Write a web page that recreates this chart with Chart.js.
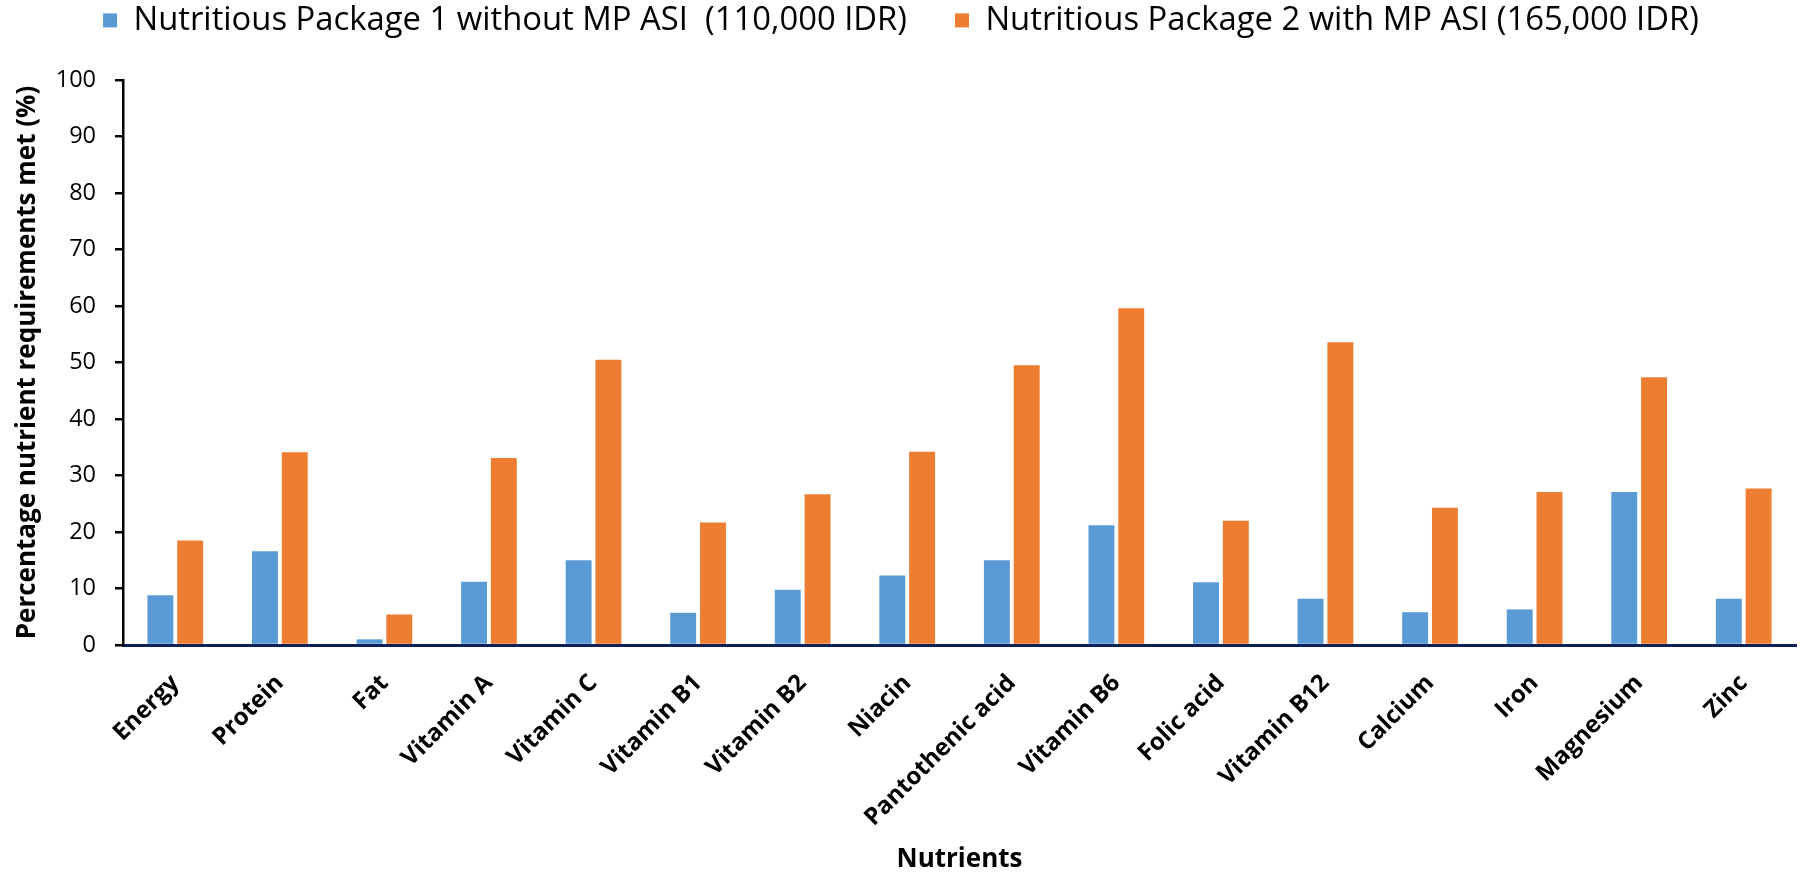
<!DOCTYPE html>
<html>
<head>
<meta charset="utf-8">
<title>Nutrient requirements met by package</title>
<script src="https://cdn.jsdelivr.net/npm/chart.js@4.4.1/dist/chart.umd.min.js"></script>
<style>
  html, body { margin: 0; padding: 0; background: #ffffff; }
  #wrap { width: 1800px; height: 875px; }
</style>
</head>
<body>
<div id="wrap"><canvas id="chart" width="1800" height="875"></canvas></div>
<script>
// Nutrients on the category axis
const nutrients = [
  'Energy', 'Protein', 'Fat', 'Vitamin A', 'Vitamin C', 'Vitamin B1', 'Vitamin B2',
  'Niacin', 'Pantothenic acid', 'Vitamin B6', 'Folic acid', 'Vitamin B12',
  'Calcium', 'Iron', 'Magnesium', 'Zinc'
];

// Percentage of nutrient requirements met (%)
const package1 = [8.8, 16.6, 1.0, 11.2, 15.0, 5.7, 9.8, 12.3, 15.0, 21.2, 11.1, 8.2, 5.8, 6.3, 27.1, 8.2];
const package2 = [18.5, 34.1, 5.4, 33.1, 50.5, 21.7, 26.7, 34.2, 49.5, 59.6, 22.0, 53.6, 24.3, 27.1, 47.4, 27.7];

const seriesNames = [
  'Nutritious Package 1 without MP ASI  (110,000 IDR)',
  'Nutritious Package 2 with MP ASI (165,000 IDR)'
];

const yTicks = { min: 0, max: 100, step: 10 };
const axisTitles = { x: 'Nutrients', y: 'Percentage nutrient requirements met (%)' };

// Leaves a gap between the legend row and the plot area
const LEGEND_HEIGHT = 124;
const legendSpacer = {
  id: 'legendSpacer',
  beforeLayout(chart) {
    const lg = chart.legend;
    if (lg && !lg._spacerWrapped) {
      const fit = lg.fit;
      lg.fit = function () {
        fit.call(this);
        this.height = LEGEND_HEIGHT;
      };
      lg._spacerWrapped = true;
    }
  }
};

const FONT = "'Open Sans', 'DejaVu Sans', sans-serif";

new Chart(document.getElementById('chart'), {
  type: 'bar',
  data: {
    labels: nutrients,
    datasets: [
      {
        label: seriesNames[0],
        data: package1,
        backgroundColor: '#5B9BD5',
        borderWidth: 0,
        categoryPercentage: 0.57,
        barPercentage: 0.87
      },
      {
        label: seriesNames[1],
        data: package2,
        backgroundColor: '#ED7D31',
        borderWidth: 0,
        categoryPercentage: 0.57,
        barPercentage: 0.87
      }
    ]
  },
  options: {
    responsive: false,
    animation: false,
    devicePixelRatio: 1,
    layout: { padding: { top: -44, left: 6, right: 4, bottom: 0 } },
    plugins: {
      legend: {
        display: true,
        position: 'top',
        labels: {
          boxWidth: 14,
          boxHeight: 14,
          padding: 48,
          color: '#000000',
          font: { family: FONT, size: 32.8 }
        }
      },
      tooltip: { enabled: false }
    },
    scales: {
      x: {
        offset: true,
        grid: { display: false },
        border: { display: true, color: '#0E2157', width: 3 },
        ticks: {
          autoSkip: false,
          minRotation: 45,
          maxRotation: 45,
          padding: 16,
          color: '#000000',
          font: { family: FONT, size: 24, weight: 'bold' }
        },
        title: {
          display: true,
          text: axisTitles.x,
          color: '#000000',
          font: { family: FONT, size: 26, weight: 'bold' },
          padding: { top: 4, bottom: 0 }
        },
        afterFit(scale) { scale.height = 230; }
      },
      y: {
        min: yTicks.min,
        max: yTicks.max,
        grid: {
          display: true,
          drawOnChartArea: false,
          drawTicks: true,
          tickLength: 8,
          color: '#000000',
          lineWidth: 2.5
        },
        border: { display: true, color: '#000000', width: 2.5 },
        ticks: {
          stepSize: yTicks.step,
          padding: 19,
          color: '#000000',
          font: { family: FONT, size: 23.5 }
        },
        title: {
          display: true,
          text: axisTitles.y,
          color: '#000000',
          font: { family: FONT, size: 26, weight: 'bold' },
          padding: { top: 6, bottom: 0 }
        },
        afterFit(scale) { scale.width = 117; }
      }
    }
  },
  plugins: [legendSpacer]
});
</script>
</body>
</html>
